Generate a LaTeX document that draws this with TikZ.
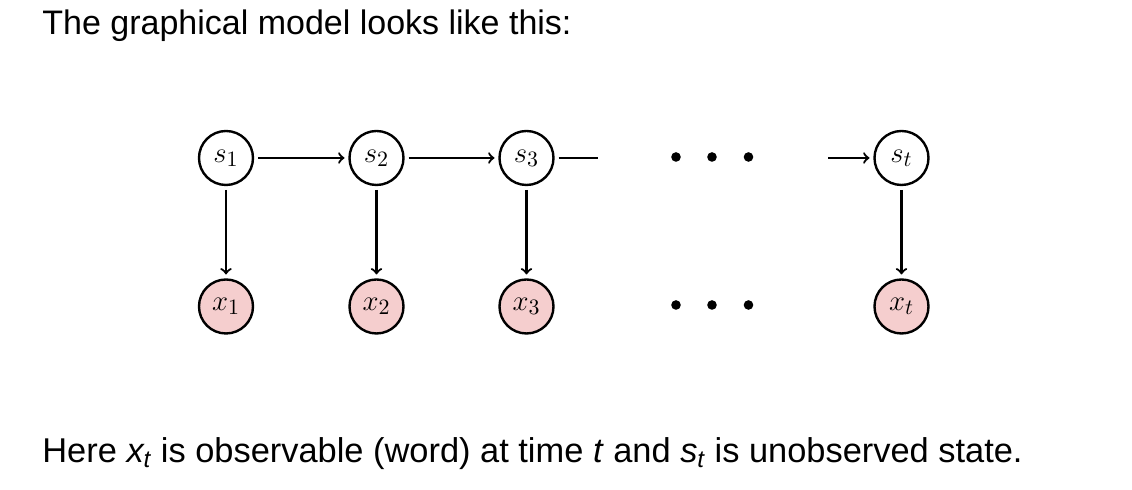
\documentclass[tikz,border=0pt]{standalone}
\usepackage{fontspec}
\setmainfont{Liberation Sans}
\usepackage{tikz}
\usetikzlibrary{arrows.meta}
\usetikzlibrary{calc}
\definecolor{obspink}{RGB}{245,206,206}
\tikzset{>=to}
\tikzstyle{hidden}=[draw,circle,line width=1.2pt,minimum size=27pt,inner sep=0pt,outer sep=2.5pt,font=\fontsize{15}{17}\selectfont]
\tikzstyle{observed}=[hidden,fill=obspink]
\tikzstyle{link}=[->,line width=1.1pt]
\tikzstyle{caption}=[anchor=base west,inner sep=0pt,font=\fontsize{17.2}{20}\selectfont]

\begin{document}
\begin{tikzpicture}[x=0.5pt,y=0.5pt]
      \useasboundingbox (0,0) rectangle (1132,490);
      \node[caption,font=\fontsize{17}{20}\selectfont] (title) at (42,455) {The graphical model looks like this:};
      % hidden states
      \node[hidden] (s1) at (226,332) {$s_1$};
      \node[hidden] (s2) at (376.5,332) {$s_2$};
      \node[hidden] (s3) at (526.5,332) {$s_3$};
      \node[hidden] (st) at (901.5,332) {$s_t$};
      % observations
      \node[observed] (x1) at (226,183.5) {$x_1$};
      \node[observed] (x2) at (376.5,183.5) {$x_2$};
      \node[observed] (x3) at (526.5,183.5) {$x_3$};
      \node[observed] (xt) at (901.5,183.5) {$x_t$};
      \coordinate (s3end) at (598,332);
      \coordinate (ststart) at (828,332);
      \draw[link] (s1) -- (s2);
      \draw[link] (s2) -- (s3);
      \draw[line width=1.1pt] (s3) -- (s3end);
      \draw[link] (ststart) -- (st);
      \foreach \i in {1,2,3,t}
        \draw[link] (s\i) -- (x\i);
      % dots
      \foreach \dx in {676,712,748.5} {
        \fill (\dx,333) circle (2.4pt);
        \fill (\dx,185) circle (2.4pt);
      }
      \node[caption] (note) at (42,27.5) {Here \textit{x\textsubscript{t}} is observable (word) at time \textit{t} and \textit{s\textsubscript{t}} is unobserved state.};
\end{tikzpicture}
\end{document}
